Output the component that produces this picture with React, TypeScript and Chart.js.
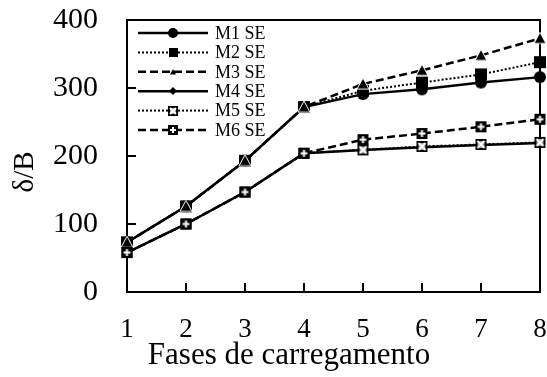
import { useEffect, useRef } from 'react';
import { Chart, registerables } from 'chart.js';

Chart.register(...registerables);

// Loading phases on the horizontal axis
const PHASES = ['1', '2', '3', '4', '5', '6', '7', '8'];

// δ/B for each model
const SERIES_NAMES = ['M1 SE', 'M2 SE', 'M3 SE', 'M4 SE', 'M5 SE', 'M6 SE'];
const M1_SE = [73, 126, 193, 272, 291, 298, 308, 316];
const M2_SE = [73, 126, 193, 272, 296, 308, 320, 338];
const M3_SE = [73, 126, 193, 272, 306, 326, 348, 373];
const M4_SE = [58, 100, 147, 204, 209, 213, 216, 219];
const M5_SE = [58, 100, 147, 204, 209, 214, 217, 220];
const M6_SE = [58, 100, 147, 204, 224, 233, 243, 254];
const SERIES_VALUES = [M1_SE, M2_SE, M3_SE, M4_SE, M5_SE, M6_SE];

const Y_MIN = 0;
const Y_MAX = 400;
const Y_STEP = 100;

const X_TITLE = 'Fases de carregamento';
const Y_TITLE = 'δ/B';

const FONT = "'Liberation Serif', 'Times New Roman', serif";

type MarkerKind = 'circle' | 'square' | 'triangle' | 'diamond' | 'crossbox' | 'plusbox';

interface LineLook {
  dash: number[];
  width: number;
  marker: MarkerKind;
  size: number;
  legendSize: number;
}

const LOOKS: LineLook[] = [
  { dash: [], width: 2.5, marker: 'circle', size: 12, legendSize: 10 },
  { dash: [2, 2], width: 2, marker: 'square', size: 12, legendSize: 9 },
  { dash: [8, 4], width: 2.5, marker: 'triangle', size: 12, legendSize: 6 },
  { dash: [], width: 2.5, marker: 'diamond', size: 9, legendSize: 8 },
  { dash: [2, 2], width: 2, marker: 'crossbox', size: 11, legendSize: 10 },
  { dash: [8, 4], width: 2.5, marker: 'plusbox', size: 11, legendSize: 10 },
];

function makeMarker(kind: MarkerKind, size: number): HTMLCanvasElement {
  const pad = 2;
  const c = document.createElement('canvas');
  c.width = size + pad * 2;
  c.height = size + pad * 2;
  const g = c.getContext('2d') as CanvasRenderingContext2D;
  const m = c.width / 2;
  const h = size / 2;
  g.fillStyle = '#000';
  g.strokeStyle = '#fff';
  switch (kind) {
    case 'circle':
      g.beginPath();
      g.arc(m, m, h, 0, Math.PI * 2);
      g.fill();
      break;
    case 'square':
      g.fillRect(m - h, m - h, size, size);
      break;
    case 'triangle':
      g.beginPath();
      g.moveTo(m, m - h);
      g.lineTo(m + h, m + h * 0.85);
      g.lineTo(m - h, m + h * 0.85);
      g.closePath();
      g.fill();
      if (size > 8) {
        g.lineWidth = 1;
        g.stroke();
      }
      break;
    case 'diamond':
      g.beginPath();
      g.moveTo(m, m - h);
      g.lineTo(m + h, m);
      g.lineTo(m, m + h);
      g.lineTo(m - h, m);
      g.closePath();
      g.fill();
      break;
    case 'crossbox': {
      g.fillRect(m - h, m - h, size, size);
      g.fillStyle = '#999';
      g.fillRect(m - h + 2, m - h + 2, size - 4, size - 4);
      const k = h - 2;
      g.lineWidth = 2;
      g.beginPath();
      g.moveTo(m - k, m - k);
      g.lineTo(m + k, m + k);
      g.moveTo(m + k, m - k);
      g.lineTo(m - k, m + k);
      g.stroke();
      break;
    }
    case 'plusbox': {
      g.fillRect(m - h, m - h, size, size);
      const k = h - 2;
      g.lineWidth = 2;
      g.beginPath();
      g.moveTo(m - k, m);
      g.lineTo(m + k, m);
      g.moveTo(m, m - k);
      g.lineTo(m, m + k);
      g.stroke();
      break;
    }
  }
  return c;
}

export default function App() {
  const canvasRef = useRef<HTMLCanvasElement | null>(null);

  useEffect(() => {
    const canvas = canvasRef.current;
    if (!canvas) return;

    const plotMarkers = LOOKS.map((l) => makeMarker(l.marker, l.size));
    const legendMarkers = LOOKS.map((l) => makeMarker(l.marker, l.legendSize));

    // Closed box around the plot plus short inward tick marks
    const framePlugin = {
      id: 'frame',
      beforeDatasetsDraw(chart: Chart) {
        const { ctx, chartArea: a, scales } = chart;
        ctx.save();
        ctx.strokeStyle = '#000';
        ctx.lineWidth = 2;
        ctx.strokeRect(a.left, a.top, a.right - a.left, a.bottom - a.top);
        ctx.beginPath();
        scales.y.ticks.forEach((t) => {
          const py = Math.round(scales.y.getPixelForValue(t.value));
          ctx.moveTo(a.left, py);
          ctx.lineTo(a.left + 9, py);
        });
        scales.x.ticks.forEach((_t, i) => {
          const px = Math.round(scales.x.getPixelForTick(i));
          ctx.moveTo(px, a.bottom);
          ctx.lineTo(px, a.bottom - 9);
        });
        ctx.stroke();
        ctx.restore();
      },
    };

    // Line-and-marker key in the upper left corner of the plot
    const keyPlugin = {
      id: 'key',
      afterDraw(chart: Chart) {
        const { ctx, chartArea: a } = chart;
        ctx.save();
        chart.data.datasets.forEach((ds, i) => {
          const look = LOOKS[i];
          const y = a.top + 13 + i * 19.4;
          const x0 = a.left + 11;
          const x1 = a.left + 81;
          ctx.strokeStyle = '#000';
          ctx.lineWidth = look.width;
          ctx.setLineDash(look.dash);
          ctx.beginPath();
          ctx.moveTo(x0, y);
          ctx.lineTo(x1, y);
          ctx.stroke();
          ctx.setLineDash([]);
          const img = legendMarkers[i];
          ctx.drawImage(img, Math.round((x0 + x1) / 2 - img.width / 2), Math.round(y - img.height / 2));
          ctx.fillStyle = '#000';
          ctx.font = `18px ${FONT}`;
          ctx.textBaseline = 'middle';
          ctx.textAlign = 'left';
          ctx.fillText(String(ds.label), a.left + 88, y + 1);
        });
        ctx.restore();
      },
    };

    // Axis captions
    const captionPlugin = {
      id: 'captions',
      afterDraw(chart: Chart) {
        const { ctx, chartArea: a } = chart;
        ctx.save();
        ctx.fillStyle = '#000';
        ctx.textAlign = 'center';
        ctx.textBaseline = 'middle';
        ctx.font = `31px ${FONT}`;
        ctx.fillText(X_TITLE, a.left + 162, a.bottom + 64);
        ctx.translate(25, a.top + 152);
        ctx.rotate(-Math.PI / 2);
        ctx.font = `29px ${FONT}`;
        ctx.fillText(Y_TITLE, 0, 0);
        ctx.restore();
      },
    };

    const chart = new Chart(canvas, {
      type: 'line',
      data: {
        labels: PHASES,
        datasets: SERIES_NAMES.map((name, i) => ({
          label: name,
          data: SERIES_VALUES[i],
          borderColor: '#000',
          backgroundColor: '#000',
          borderWidth: LOOKS[i].width,
          borderDash: LOOKS[i].dash,
          pointStyle: plotMarkers[i],
          pointRadius: 6,
          pointHoverRadius: 6,
          tension: 0,
          fill: false,
          clip: false as const,
          order: SERIES_NAMES.length - i,
        })),
      },
      options: {
        responsive: false,
        animation: false,
        events: [],
        layout: { autoPadding: false, padding: { left: 0, top: 20, right: 7, bottom: 0 } },
        plugins: {
          legend: { display: false },
          tooltip: { enabled: false },
        },
        scales: {
          x: {
            type: 'category',
            offset: false,
            grid: { display: false, drawTicks: false },
            border: { display: true, color: '#000', width: 2 },
            ticks: {
              color: '#000',
              font: { family: FONT, size: 27 },
              padding: 22,
              maxRotation: 0,
              autoSkip: false,
            },
            afterFit(scale) {
              scale.height = 85;
              scale.paddingLeft = 0;
              scale.paddingRight = 0;
            },
          },
          y: {
            type: 'linear',
            min: Y_MIN,
            max: Y_MAX,
            grid: { display: false, drawTicks: false },
            border: { display: true, color: '#000', width: 2 },
            ticks: {
              stepSize: Y_STEP,
              color: '#000',
              font: { family: FONT, size: 30 },
              padding: 29,
            },
            afterFit(scale) {
              scale.width = 127;
              scale.paddingTop = 0;
              scale.paddingBottom = 0;
            },
          },
        },
      },
      plugins: [framePlugin, keyPlugin, captionPlugin],
    });

    return () => chart.destroy();
  }, []);

  return (
    <div style={{ position: 'absolute', left: 0, top: 0, width: 547, height: 377, background: '#fff' }}>
      <canvas ref={canvasRef} width={547} height={377} style={{ display: 'block' }} />
    </div>
  );
}
